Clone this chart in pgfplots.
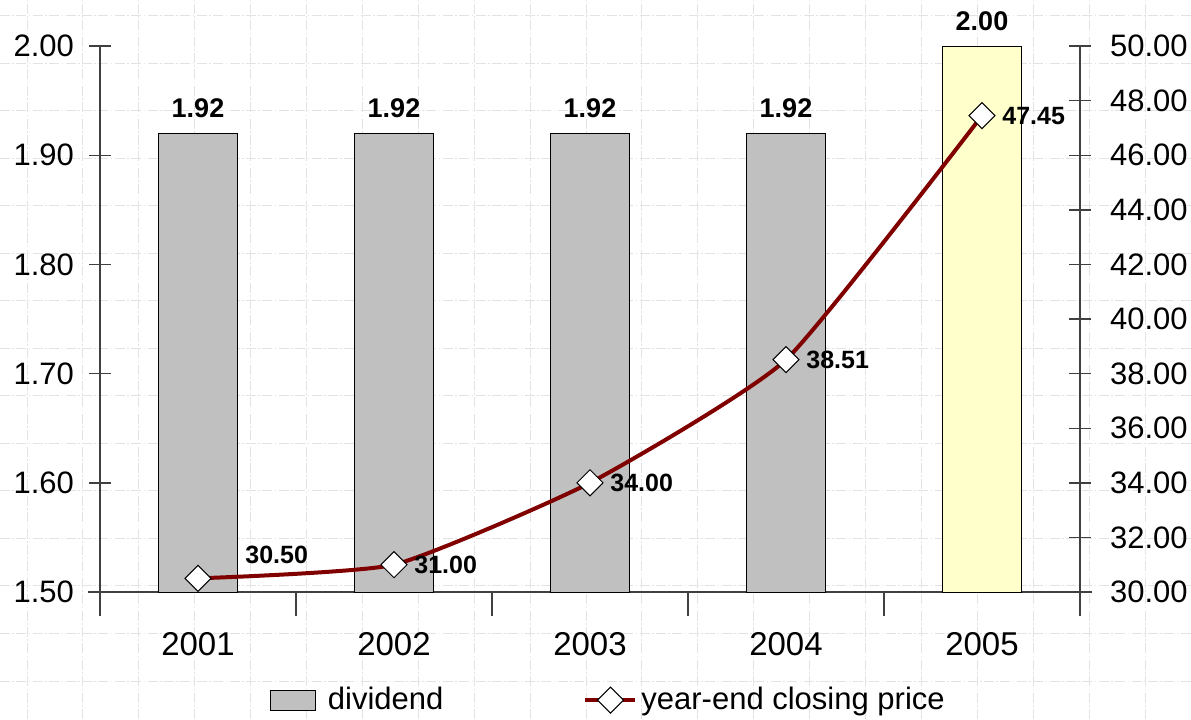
\documentclass[border=0pt]{standalone}
\usepackage{pgfplots}
\pgfplotsset{compat=1.18}
\usepackage{fontspec}
\setmainfont{Liberation Sans}
\definecolor{bargray}{HTML}{C0C0C0}
\definecolor{baryellow}{HTML}{FFFFCC}
\definecolor{linered}{HTML}{800000}
\definecolor{axisgray}{HTML}{404040}
\begin{document}
\begin{tikzpicture}
\path[use as bounding box] (0,0) rectangle (595.5pt,359.5pt);
% decorative page background pattern
\begin{scope}[draw=black!11, line width=0.5pt, dash pattern=on 5pt off 1.2pt on 0.8pt off 1.2pt]
\foreach \k in {0,...,20} { \draw (13.5pt+27.95pt*\k,0pt) -- (13.5pt+27.95pt*\k,359.5pt); }
\foreach \k in {0,...,14} { \draw (0pt,351.5pt-23.75pt*\k) -- (595.5pt,351.5pt-23.75pt*\k); }
\end{scope}
\begin{axis}[
  at={(50pt,63.5pt)}, anchor=south west,
  width=490pt, height=273pt, scale only axis,
  clip=false,
  xmin=-0.5, xmax=4.5, ymin=1.5, ymax=2.0,
  axis x line*=bottom, axis y line*=left,
  axis line style={-, axisgray, line width=0.7pt},
  x axis line style={shorten <=-6pt, shorten >=-6pt},
  tick align=center,
  major tick length=11pt, minor tick length=12pt,
  xtick={0,1,2,3,4},
  xticklabels={2001,2002,2003,2004,2005},
  minor xtick={-0.5,0.5,1.5,2.5,3.5,4.5},
  major x tick style={draw=none},
  minor x tick style={axisgray, line width=0.7pt},
  ytick={1.5,1.6,1.7,1.8,1.9,2.0},
  y tick style={axisgray, line width=0.7pt},
  scaled y ticks=false,
  yticklabel style={font=\fontsize{15.5}{18}\selectfont, xshift=-4pt, /pgf/number format/.cd, fixed, fixed zerofill, precision=2, assume math mode=true},
  xticklabel style={font=\fontsize{16.5}{19}\selectfont, yshift=-5.5pt},
  ybar, bar width=39.5pt, bar shift=0pt,
  nodes near coords,
  nodes near coords style={font=\fontsize{13.5}{16}\bfseries\selectfont, inner sep=0pt, yshift=7.5pt,
    /pgf/number format/.cd, fixed, fixed zerofill, precision=2, assume math mode=true},
  legend style={at={(0.52,-0.198)}, anchor=center, draw=none, fill=none,
    font=\fontsize{15.5}{18}\selectfont, legend columns=2,
    /tikz/every even column/.append style={column sep=68pt}},
]
\addplot[fill=bargray, draw=black, line width=0.5pt,
  legend image code/.code={\draw[fill=bargray, draw=black, line width=0.5pt] (0pt,-5pt) rectangle (22.5pt,5pt);
    \path[draw=none, fill=none] (22.5pt,0pt) -- (26.5pt,0pt);}]
  coordinates {(0,1.92) (1,1.92) (2,1.92) (3,1.92)};
\addlegendentry{dividend}
\addplot[fill=baryellow, draw=black, line width=0.5pt, forget plot]
  coordinates {(4,2.00)};
\addlegendimage{legend image code/.code={
  \draw[linered, line width=2pt] (0pt,0pt) -- (25pt,0pt);
  \draw[fill=white, draw=black, line width=0.5pt] (12.5pt,-6.5pt) -- (19pt,0pt) -- (12.5pt,6.5pt) -- (6pt,0pt) -- cycle;}}
\addlegendentry{year-end closing price}
\end{axis}
\begin{axis}[
  at={(50pt,63.5pt)}, anchor=south west,
  width=490pt, height=273pt, scale only axis,
  clip=false,
  xmin=-0.5, xmax=4.5, ymin=30, ymax=50,
  axis x line=none, axis y line*=right,
  axis line style={-, axisgray, line width=0.7pt},
  tick align=center, major tick length=11pt,
  ytick={30,32,34,36,38,40,42,44,46,48,50},
  y tick style={axisgray, line width=0.7pt},
  scaled y ticks=false,
  yticklabel style={font=\fontsize{15.5}{18}\selectfont, xshift=6pt, /pgf/number format/.cd, fixed, fixed zerofill, precision=2, assume math mode=true},
]
\addplot[linered, line width=2pt, smooth, tension=0.3, mark=square*, mark size=4.6pt,
  mark options={fill=white, draw=black, line width=0.5pt, rotate=45, solid}]
  coordinates {(0,30.50) (1,31.00) (2,34.00) (3,38.51) (4,47.45)};
\addplot[draw=none, mark=none, nodes near coords,
  nodes near coords style={anchor=west, inner sep=0pt, xshift=10pt, font=\fontsize{12.5}{15}\bfseries\selectfont,
    /pgf/number format/.cd, fixed, fixed zerofill, precision=2, assume math mode=true}]
  coordinates {(1,31.00) (2,34.00) (3,38.51) (4,47.45)};
\addplot[draw=none, mark=none, nodes near coords,
  nodes near coords style={anchor=west, inner sep=0pt, xshift=23.5pt, yshift=11.5pt, font=\fontsize{12.5}{15}\bfseries\selectfont,
    /pgf/number format/.cd, fixed, fixed zerofill, precision=2, assume math mode=true}]
  coordinates {(0,30.50)};
\end{axis}
\end{tikzpicture}
\end{document}
